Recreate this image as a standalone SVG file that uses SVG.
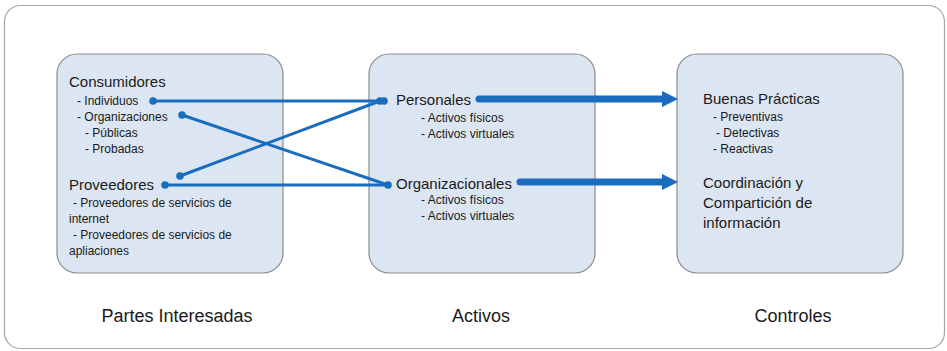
<svg xmlns="http://www.w3.org/2000/svg" width="947" height="351" viewBox="0 0 947 351">
<defs>
<style>
text{font-family:"Liberation Sans",Arial,sans-serif;fill:#1a1a1a}
.h{font-size:15px}
.s{font-size:12px}
.lbl{font-size:18px;text-anchor:middle}
.box{fill:#dce6f2;stroke:#8c8c8c;stroke-width:1.2}
.thin{stroke:#1a6dbd;stroke-width:3;fill:none;stroke-linecap:round}
.thick{stroke:#1a6dbd;stroke-width:7;fill:none;stroke-linecap:round}
.dot{fill:#1a6dbd}
</style>
<marker id="ah" viewBox="0 0 10 10" refX="0" refY="5" markerWidth="2.3" markerHeight="2.3" markerUnits="strokeWidth" orient="auto">
<path d="M0,0 L10,5 L0,10 Z" fill="#1a6dbd"/>
</marker>
</defs>
<rect x="4.5" y="5.5" width="940" height="343" rx="16" fill="#fff" stroke="#a6a6a6" stroke-width="1.2"/>

<g id="partes">
<rect class="box" x="57" y="54" width="226" height="219" rx="20"/>
<text class="h" x="69" y="87">Consumidores</text>
<text class="s" x="77" y="105">- Individuos</text>
<text class="s" x="77" y="121">- Organizaciones</text>
<text class="s" x="85" y="137">- Públicas</text>
<text class="s" x="85" y="153">- Probadas</text>
<text class="h" x="69" y="190">Proveedores</text>
<text class="s" x="73" y="207">- Proveedores de servicios de</text>
<text class="s" x="69" y="223">internet</text>
<text class="s" x="73" y="239">- Proveedores de servicios de</text>
<text class="s" x="69" y="255">apliaciones</text>
</g>

<g id="activos">
<rect class="box" x="369" y="54" width="226" height="219" rx="20"/>
<text class="h" x="396" y="105">Personales</text>
<text class="s" x="421" y="122">- Activos físicos</text>
<text class="s" x="421" y="138">- Activos virtuales</text>
<text class="h" x="396" y="189">Organizacionales</text>
<text class="s" x="421" y="204">- Activos físicos</text>
<text class="s" x="421" y="220">- Activos virtuales</text>
</g>

<g id="controles">
<rect class="box" x="677" y="54" width="226" height="219" rx="20"/>
<text class="h" x="703" y="104">Buenas Prácticas</text>
<text class="s" x="713" y="121">- Preventivas</text>
<text class="s" x="716" y="137">- Detectivas</text>
<text class="s" x="713" y="153">- Reactivas</text>
<text class="h" x="703" y="188">Coordinación y</text>
<text class="h" x="703" y="208">Compartición de</text>
<text class="h" x="703" y="228">información</text>
</g>

<g id="labels">
<text class="lbl" x="177" y="322">Partes Interesadas</text>
<text class="lbl" x="481" y="322">Activos</text>
<text class="lbl" x="793" y="322">Controles</text>
</g>

<g id="connectors">
<line class="thin" x1="153" y1="101" x2="384" y2="101"/>
<line class="thin" x1="182" y1="115" x2="388" y2="185"/>
<line class="thin" x1="180" y1="176" x2="380" y2="101"/>
<line class="thin" x1="165" y1="185" x2="388" y2="185"/>
<circle class="dot" cx="153" cy="101" r="3.8"/>
<circle class="dot" cx="182" cy="115" r="3.8"/>
<circle class="dot" cx="180" cy="176" r="3.8"/>
<circle class="dot" cx="165" cy="185" r="3.8"/>
<circle class="dot" cx="380" cy="101" r="3.8"/>
<circle class="dot" cx="384" cy="101" r="3.8"/>
<circle class="dot" cx="388" cy="185" r="3.8"/>
<line class="thick" x1="479" y1="99" x2="662" y2="99" marker-end="url(#ah)"/>
<line class="thick" x1="520" y1="182" x2="662" y2="182" marker-end="url(#ah)"/>
</g>
</svg>
